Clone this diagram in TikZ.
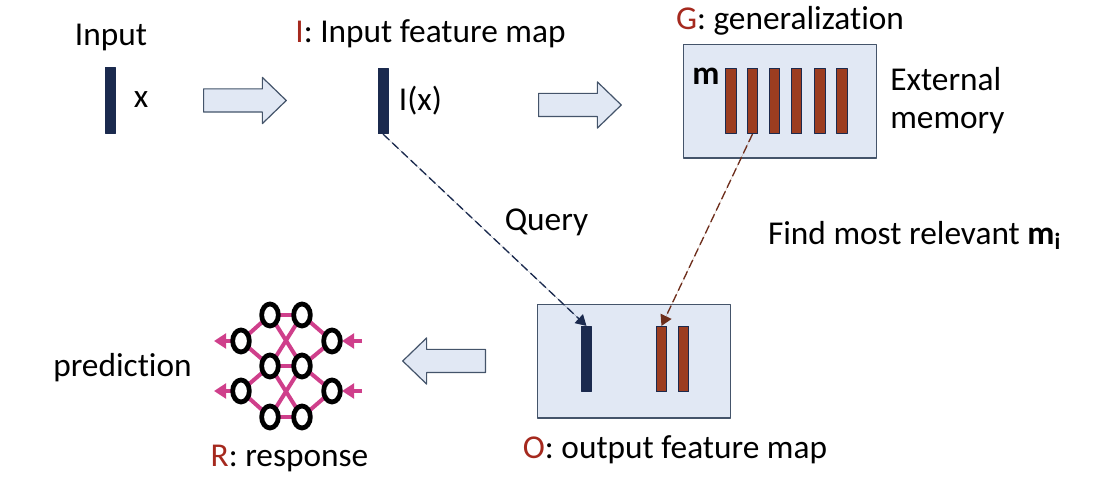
\documentclass[tikz,border=0pt]{standalone}
\usepackage{fontspec}
\setmainfont[Ligatures=NoCommon]{Carlito}
\usetikzlibrary{shapes.geometric,shapes.arrows,arrows.meta}
\definecolor{navybar}{HTML}{1B2A4E}
\definecolor{brownbar}{HTML}{9C3D20}
\definecolor{boxfill}{HTML}{E1E8F4}
\definecolor{boxline}{HTML}{44546A}
\definecolor{netpink}{HTML}{CF3F8B}
\definecolor{letterred}{HTML}{A5291E}
\definecolor{dashbrown}{HTML}{6E2E1C}
\newcommand{\ltr}[1]{\textcolor{letterred}{#1}}
\tikzset{
	querybar/.style={rectangle, draw=navybar, fill=navybar, line width=0.6pt, inner sep=0, minimum width=7.4pt, minimum height=49pt},
	membar/.style={rectangle, draw=navybar, fill=brownbar, line width=0.6pt, inner sep=0, minimum width=7.8pt, minimum height=49pt},
	panel/.style={rectangle, draw=boxline, fill=boxfill, line width=1pt, inner sep=0},
	flowarrow/.style={single arrow, draw=boxline, fill=boxfill, line width=0.9pt, inner xsep=0, inner ysep=8.25pt, anchor=tail, minimum height=62pt, single arrow head extend=8.6pt, single arrow tip angle=88},
	neuron/.style={ellipse, draw=black, fill=white, line width=3.6pt, inner sep=0, minimum width=12.5pt, minimum height=16.5pt},
	link/.style={draw=netpink, line width=3pt},
	pinktip/.style={draw=netpink, line width=3pt, -{Triangle[length=9pt,width=11pt]}},
	label/.style={inner sep=0, font=\fontsize{25}{30}\selectfont},
	dashlink/.style={dash pattern=on 6.5pt off 3pt, line width=1pt, -{Triangle[length=8pt,width=9pt]}},
}
\begin{document}
\begin{tikzpicture}[x=0.75pt, y=-0.75pt, line join=round]
	\useasboundingbox (0,0) rectangle (1101,491);
	% boxes
	\node[panel, minimum width=145pt, minimum height=85pt] (gbox) at (780,101.5) {};
	\node[panel, minimum width=145pt, minimum height=85pt] (obox) at (634,361.5) {};
	% bars
	\node[querybar] (xbar) at (110,100.5) {};
	\node[querybar] (ibar) at (383,101) {};
	\node[querybar] (qbar) at (586.5,359) {};
	\foreach \n/\x in {1/731,2/752.5,3/774.5,4/796.5,5/820,6/842} \node[membar] (mem\n) at (\x,101) {};
	\node[membar] (ma) at (661.5,359) {};
	\node[membar] (mb) at (683.5,359) {};
	% arrows
	\node[flowarrow] (flowa) at (203,100.5) {};
	\node[flowarrow] (flowb) at (538,105) {};
	\node[flowarrow, shape border rotate=180] (flowc) at (486,361) {};
	% dashed links
	\draw[dashlink, draw=navybar, fill=navybar] (ibar.south) -- (qbar.north);
	\draw[dashlink, draw=dashbrown, fill=dashbrown] (mem2.south) -- (ma.north);
	% network
	\foreach \n/\x/\y in {la/241/341,lb/241/391,ta/270/315,tb/302/315,ma/270/366,mb/302/366,ba/270/417,bb/302/417,ra/332/341,rb/332/391} \coordinate (c\n) at (\x,\y);
	\foreach \a/\b in {cla/cta,cla/cma,cta/ctb,cta/cmb,ctb/cma,ctb/cra,cmb/cra,cma/cmb,cma/clb,cma/cbb,cmb/cba,cmb/crb,clb/cba,crb/cbb,cba/cbb} \draw[link] (\a)--(\b);
	\coordinate (outa) at (214,341); \coordinate (outb) at (214,391);
	\coordinate (ina) at (362,341); \coordinate (inb) at (362,391);
	\coordinate (ena) at (342,341); \coordinate (enb) at (342,391);
	\draw[pinktip] (cla)--(outa);
	\draw[pinktip] (clb)--(outb);
	\draw[pinktip] (ina)--(ena);
	\draw[pinktip] (inb)--(enb);
	\foreach \n/\x/\y in {la/241/341,lb/241/391,ta/270/315,tb/302/315,ma/270/366,mb/302/366,ba/270/417,bb/302/417,ra/332/341,rb/332/391} \node[neuron] (n\n) at (\x,\y) {};
	% labels
	\node[label] (inputlab) at (111,37) {Input};
	\node[label] (xlab) at (141,100) {x};
	\node[label] (ilab) at (430.5,34) {\ltr{I}: Input feature map};
	\node[label] (ixlab) at (420.5,101) {I(x)};
	\node[label] (glab) at (790,21) {\ltr{G}: generalization};
	\node[label, align=left, anchor=west, font=\fontsize{25}{28.5}\selectfont] (extlab) at (890,101) {External\\memory};
	\node[label] (mlab) at (706,76) {\textbf{m}};
	\node[label] (qlab) at (546.5,222) {Query};
	\node[label] (findlab) at (914.5,235) {Find most relevant \textbf{m\textsubscript{i}}};
	\node[label] (predlab) at (122.5,368) {prediction};
	\node[label] (rlab) at (289.5,458) {\ltr{R}: response};
	\node[label] (olab) at (675,450) {\ltr{O}: output feature map};
\end{tikzpicture}
\end{document}
